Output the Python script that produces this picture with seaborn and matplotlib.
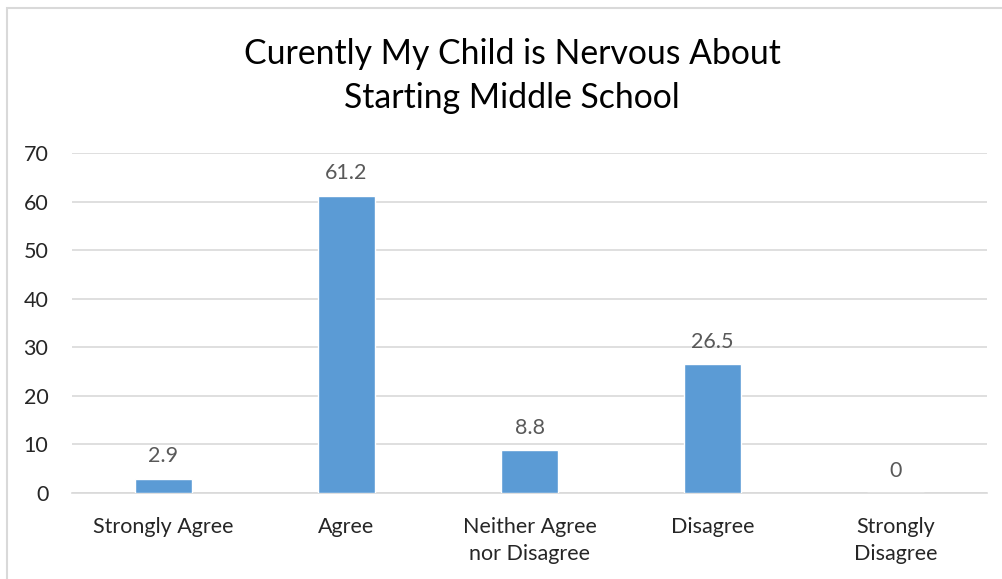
import matplotlib
matplotlib.use("Agg")
import matplotlib.pyplot as plt
import seaborn as sns
import pandas as pd
from matplotlib.patches import Rectangle

categories = ["Strongly Agree", "Agree", "Neither Agree\nnor Disagree", "Disagree", "Strongly\nDisagree"]
values = [2.9, 61.2, 8.8, 26.5, 0]
yticks = [0, 10, 20, 30, 40, 50, 60, 70]

sns.set_theme(style="white")
plt.rcParams["font.family"] = ["Lato", "DejaVu Sans"]

df = pd.DataFrame({"category": categories, "value": values})

fig = plt.figure(figsize=(10.02, 5.79), dpi=100)
ax = fig.add_axes([0.0719, 0.1485, 0.9131, 0.5873])

sns.barplot(data=df, x="category", y="value", color="#5B9BD5", width=0.31,
            saturation=1, ax=ax, zorder=3)

ax.set_ylim(0, 70)
ax.set_yticks(yticks)
ax.set_yticklabels([str(t) for t in yticks], fontsize=15.5, color="#262626")
ax.set_xlabel("")
ax.set_ylabel("")
for lbl in ax.get_xticklabels():
    lbl.set_linespacing(1.45)
ax.tick_params(axis="x", labelsize=15.5, labelcolor="#262626", length=0, pad=17)
ax.tick_params(axis="y", length=0, pad=17)
ax.yaxis.grid(True, color="#D9D9D9", linewidth=1.2, zorder=0)
for s in ["top", "right", "left"]:
    ax.spines[s].set_visible(False)
ax.spines["bottom"].set_color("#D9D9D9")
ax.spines["bottom"].set_linewidth(1.2)

for i, v in enumerate(values):
    ax.annotate(f"{v:g}", (i, v), xytext=(0, 9), textcoords="offset points",
                ha="center", va="bottom", fontsize=15.5, color="#595959")

fig.text(0.511, 0.869, "Curently My Child is Nervous About\nStarting Middle School",
         ha="center", va="center", fontsize=24.3, color="#000000", linespacing=1.45)

fig.patches.append(Rectangle((7 / 1002, -0.1), 1.2, 1 - 8 / 579 + 0.1,
                             transform=fig.transFigure, fill=False,
                             edgecolor="#D9D9D9", linewidth=1.5))

fig.savefig("out.png", dpi=100, facecolor="white")
